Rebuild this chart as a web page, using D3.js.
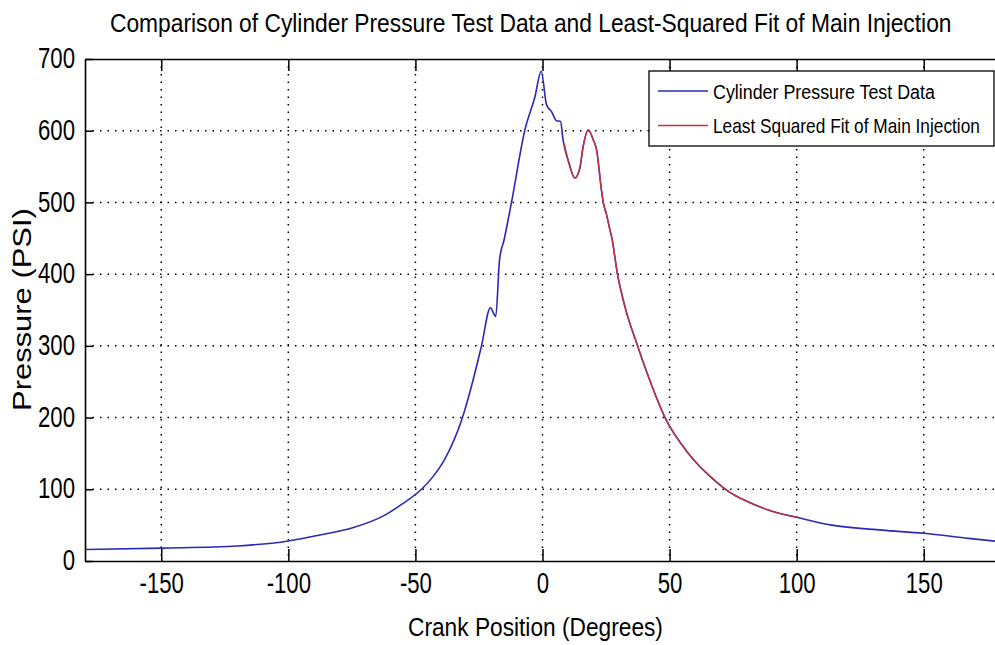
<!DOCTYPE html>
<html>
<head>
<meta charset="utf-8">
<script src="https://cdn.jsdelivr.net/npm/d3@7"></script>
<style>
  body { margin: 0; background: #fff; }
  svg { display: block; font-family: Arial, "Liberation Sans", sans-serif; }
</style>
</head>
<body>
<svg id="chart" width="995" height="645"></svg>
<script>
// test data (crank angle in degrees, pressure in psi)
const testDeg = [-180, -150, -120, -100, -88, -75, -62, -55, -47.6, -43, -38.6, -31.5, -28, -24, -20.5, -18.4, -16.9, -15.1, -12.2, -7, -3, -0.5, 1.6, 3.5, 5.5, 7.1, 8.1, 10.4, 12.7, 14.7, 16, 18, 20, 21.3, 23.2, 23.9, 25.2, 26.5, 27.2, 29.5, 32.4, 37.4, 42.2, 48.2, 57.4, 67.5, 74, 80.6, 89.7, 100, 113.8, 133.5, 150, 167.6, 180];
const testPsi = [16, 18, 21, 28, 36, 46, 64, 80, 100, 118, 141, 200, 243, 300, 353, 341, 420, 448, 500, 600, 647, 683, 636, 627, 614, 613, 587, 555, 534, 548, 578, 601, 587, 573, 517, 500, 483, 462, 452, 400, 355, 300, 252, 200, 150, 113, 95, 83, 70, 61, 50, 43, 38.6, 31.6, 27];

// least squared fit of the main injection
const fitDeg = [8.5, 10.4, 12.7, 14.7, 16, 18, 20, 21.3, 23.2, 23.9, 25.2, 26.5, 27.2, 29.5, 32.4, 37.4, 42.2, 48.2, 57.4, 67.5, 74, 80.6, 89.7, 100];
const fitPsi = [582, 555, 534, 548, 578, 601, 587, 573, 517, 500, 483, 462, 452, 400, 355, 300, 252, 200, 150, 113, 95, 83, 70, 61];

const xTicks = [-150, -100, -50, 0, 50, 100, 150];
const yTicks = [0, 100, 200, 300, 400, 500, 600, 700];
const seriesNames = ["Cylinder Pressure Test Data", "Least Squared Fit of Main Injection"];
const seriesColors = ["#2a2ab8", "#c8303c"];

const plotLeft = 85, plotRight = 1000, plotTop = 59, plotBottom = 561;
const squeeze = 0.74; // the tick font in the picture is narrow

let svg = d3.select("#chart");

let xScale = d3.scaleLinear().domain([-180, 180]).range([plotLeft, plotRight]);
let yScale = d3.scaleLinear().domain([0, 700]).range([plotBottom, plotTop]);

// squeeze a text horizontally so it spans the width seen in the picture
function narrowText(sel, x, y, width, extra) {
  let natural = sel.node().getComputedTextLength();
  sel.attr("x", 0).attr("y", 0)
    .attr("transform", `translate(${x},${y}) ${extra || ""} scale(${width / natural},1)`);
}

// dotted grid
svg.append("g").selectAll("line")
  .data(xTicks)
  .join("line")
  .attr("x1", d => xScale(d)).attr("x2", d => xScale(d))
  .attr("y1", plotTop).attr("y2", plotBottom)
  .attr("stroke", "#000").attr("stroke-width", 1.5)
  .attr("stroke-dasharray", "1.5,6");

svg.append("g").selectAll("line")
  .data(yTicks.slice(1, -1))
  .join("line")
  .attr("x1", plotLeft).attr("x2", plotRight)
  .attr("y1", d => yScale(d)).attr("y2", d => yScale(d))
  .attr("stroke", "#000").attr("stroke-width", 1.5)
  .attr("stroke-dasharray", "1.5,6");

// curves
let line = d3.line()
  .x(d => xScale(d[0]))
  .y(d => yScale(d[1]))
  .curve(d3.curveMonotoneX);

svg.append("path")
  .datum(d3.zip(testDeg, testPsi))
  .attr("d", line)
  .attr("fill", "none")
  .attr("stroke", seriesColors[0])
  .attr("stroke-width", 1.6);

svg.append("path")
  .datum(d3.zip(fitDeg, fitPsi))
  .attr("d", line)
  .attr("fill", "none")
  .attr("stroke", seriesColors[1])
  .attr("stroke-width", 1.4);

// axes, ticks pointing inward; plain hyphen for negatives like the picture
let xAxis = svg.append("g")
  .attr("transform", `translate(0,${plotBottom})`)
  .call(d3.axisBottom(xScale).tickValues(xTicks).tickFormat(d => String(d))
    .tickSize(-12).tickPadding(11).tickSizeOuter(0));

svg.append("g")
  .attr("transform", `translate(0,${plotTop})`)
  .call(d3.axisTop(xScale).tickValues(xTicks).tickSize(-12).tickSizeOuter(0).tickFormat(""));

let yAxis = svg.append("g")
  .attr("transform", `translate(${plotLeft},0)`)
  .call(d3.axisLeft(yScale).tickValues(yTicks).tickFormat(d => String(d))
    .tickSize(-8).tickPadding(10).tickSizeOuter(0));

svg.selectAll(".domain").attr("stroke", "#000").attr("stroke-width", 1.6);
svg.selectAll(".tick line").attr("stroke", "#000").attr("stroke-width", 1.5);

xAxis.selectAll("text")
  .attr("font-size", 30)
  .attr("font-family", "Arial, 'Liberation Sans', sans-serif")
  .attr("fill", "#000")
  .attr("transform", `scale(${squeeze},1)`);

yAxis.selectAll("text")
  .attr("font-size", 30)
  .attr("font-family", "Arial, 'Liberation Sans', sans-serif")
  .attr("fill", "#000")
  .attr("x", -10 / squeeze)
  .attr("dy", "0.29em")
  .attr("transform", `scale(${squeeze},1)`);

// frame right edge (falls just outside the window)
svg.append("line")
  .attr("x1", plotRight).attr("x2", plotRight).attr("y1", plotTop).attr("y2", plotBottom)
  .attr("stroke", "#000").attr("stroke-width", 1.6);

// title and axis labels
let title = svg.append("text")
  .text("Comparison of Cylinder Pressure Test Data and Least-Squared Fit of Main Injection")
  .attr("font-size", 25);
narrowText(title, 110, 32, 842);

let xLabel = svg.append("text")
  .text("Crank Position (Degrees)")
  .attr("font-size", 26);
narrowText(xLabel, 408, 636, 255);

let yLabel = svg.append("text")
  .text("Pressure (PSI)")
  .attr("font-size", 25);
narrowText(yLabel, 31, 411, 203, "rotate(-90)");

// legend
let legend = svg.append("g");
legend.append("rect")
  .attr("x", 649).attr("y", 71)
  .attr("width", 345).attr("height", 75)
  .attr("fill", "#fff").attr("stroke", "#000").attr("stroke-width", 1.3);

const legendTextLen = [222, 267];
seriesNames.forEach((name, i) => {
  let cy = 91 + i * 34.5;
  legend.append("line")
    .attr("x1", 658).attr("x2", 708)
    .attr("y1", cy).attr("y2", cy)
    .attr("stroke", seriesColors[i]).attr("stroke-width", 1.6);
  let label = legend.append("text")
    .text(name)
    .attr("font-size", 21);
  narrowText(label, 713, cy + 7.5, legendTextLen[i]);
});
</script>
</body>
</html>
